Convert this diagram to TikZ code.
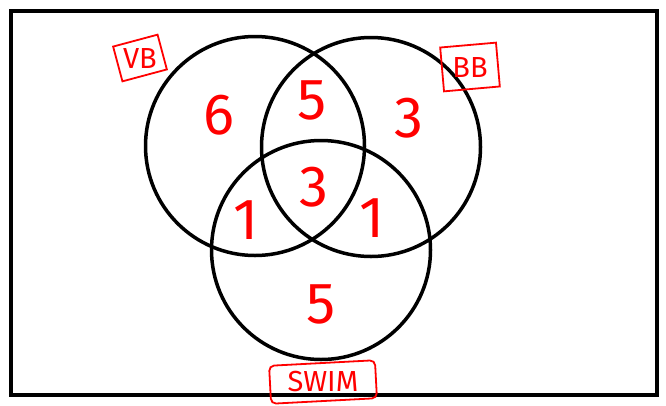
\documentclass[tikz,border=0pt]{standalone}
\usepackage{fontspec}
\newfontfamily\hand{Fira Sans}
\begin{document}
\begin{tikzpicture}[x=1pt,y=-1pt,
  setc/.style={draw=black, line width=3.5pt, circle, minimum size=219pt, inner sep=0pt},
  num/.style={text=red, font=\hand\fontsize{58}{58}\selectfont, inner sep=0pt},
  tagbox/.style={draw=red, line width=1.8pt, inner sep=0pt},
  tagtext/.style={text=red, font=\hand\fontsize{29}{29}\selectfont, inner sep=0pt}]
\useasboundingbox (0,0) rectangle (666,405);
\node[draw=black, line width=4pt, minimum width=646pt, minimum height=384pt, inner sep=0pt] (frame) at (334,203) {};
\node[setc] (vb) at (255,146) {};
\node[setc] (bb) at (371,147) {};
\node[setc] (sw) at (321,250) {};
\node[num] (n6) at (219,115) {6};
\node[num] (n5a) at (312,100) {5};
\node[num] (n3a) at (409,118) {3};
\node[num] (n3b) at (314,187) {3};
\node[num] (n1a) at (246,220) {1};
\node[num] (n1b) at (372,218) {1};
\node[num] (n5b) at (321,304) {5};
\node[tagbox, rotate=15, minimum width=46pt, minimum height=36pt] (bvb) at (140,58) {};
\node[tagtext] (tvb) at (140,59) {VB};
\node[tagbox, rotate=5, minimum width=56pt, minimum height=44pt] (bbb) at (470,67) {};
\node[tagtext] (tbb) at (470,68) {BB};
\node[tagbox, rounded corners=5pt, rotate=3, minimum width=106pt, minimum height=38pt] (bsw) at (323,382) {};
\node[tagtext] (tsw) at (323,382) {SWIM};
\end{tikzpicture}
\end{document}
